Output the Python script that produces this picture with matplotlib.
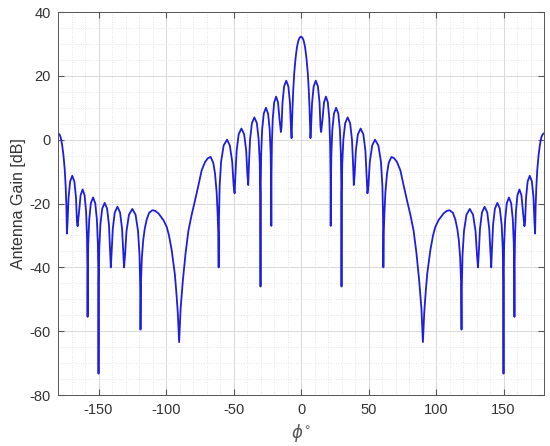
import numpy as np
import matplotlib
matplotlib.use("Agg")
import matplotlib.pyplot as plt
from matplotlib.ticker import MultipleLocator

# pattern for 0..180 deg; it is symmetric about 0
phi_half = [
    0, 1, 2, 3, 4, 5, 5.7, 6.3, 6.7, 7.0,
    7.47, 8.19, 9.37, 10.95, 12.53, 13.72, 14.43, 14.9,
    15.97, 17.03, 18.45, 19.87, 20.94, 21.57, 21.86, 22.0,
    22.16, 22.48, 23.2, 24.4, 26.0, 27.6, 28.8, 29.52, 29.84, 30.0,
    30.18, 30.55, 31.37, 32.73, 34.55, 36.37, 37.74, 38.55, 39.1,
    39.71, 40.62, 42.13, 44.15, 46.17, 47.69, 48.59, 49.2,
    49.9, 50.97, 52.74, 54.8, 57.3, 59.2, 60.29, 60.76, 61.0,
    61.3, 61.8, 62.5, 63.7, 65.0, 67.0, 69.0, 71.1, 73.6, 76.0,
    78.5, 81.0, 83.4, 85.5, 87.5, 89.2, 90.3,
    91.3, 92.5, 93.5, 95.8, 97.8, 99.5, 101.9, 105.6, 108.0, 110.1,
    112.5, 114.3, 115.8, 116.9, 117.9, 118.5, 118.9,
    119.14, 119.63, 120.73, 122.56, 125.0, 127.44, 129.27, 130.37, 131.1,
    131.69, 132.57, 134.04, 136.0, 137.96, 139.43, 140.31, 140.9,
    141.45, 142.27, 143.63, 145.45, 147.27, 148.64, 149.45, 149.82, 150.0,
    150.16, 150.49, 151.22, 152.43, 154.05, 155.67, 156.89, 157.61, 157.94, 158.1,
    158.25, 158.54, 159.21, 160.32, 161.8, 163.28, 164.39, 165.5,
    165.97, 166.69, 167.87, 169.45, 171.03, 172.22, 172.93, 173.4,
    173.8, 174.3, 175, 176, 177, 178, 179, 180,
]
gain_half = [
    32.3, 32.0, 31.0, 29.0, 25.7, 21.0, 16.0, 10.0, 4.5, 0.5,
    4.0, 11.6, 16.7, 18.5, 16.7, 11.6, 4.0, 2.4,
    6.6, 11.7, 13.5, 11.7, 6.6, -1.0, -10.5, -27,
    -14, -4.5, 3.1, 8.2, 10, 8.2, 3.1, -4.5, -14, -46,
    -17, -7.5, 0.1, 5.2, 7.0, 5.2, 0.1, -7.5, -14.2,
    -11, -3.4, 1.7, 3.5, 1.7, -3.4, -11, -16.8,
    -14.5, -6.9, -1.8, 0, -1.8, -6.9, -14.5, -24, -40,
    -29, -23, -16.5, -10.6, -7.2, -5.4, -5.8, -7.0, -9.6, -14.3,
    -19.0, -23.5, -28.5, -35.5, -44, -53, -63.4,
    -54, -47, -42, -34.6, -30, -27.3, -25.2, -23.1, -22.3, -22.1,
    -22.9, -25.0, -28.0, -31.5, -37, -44, -59.5,
    -45.7, -36.2, -28.6, -23.5, -21.7, -23.5, -28.6, -36.2, -40,
    -35.5, -27.9, -22.8, -21.0, -22.8, -27.9, -35.5, -40,
    -34.3, -26.7, -21.6, -19.8, -21.6, -26.7, -34.3, -43.8, -73.3,
    -42.1, -32.6, -25.0, -19.9, -18.1, -19.9, -25.0, -32.6, -42.1, -55.5,
    -39.6, -30.1, -22.5, -17.4, -15.6, -17.4, -22.5, -27.1,
    -25.8, -18.2, -13.1, -11.3, -13.1, -18.2, -25.8, -29.4,
    -21, -15, -9.5, -4.8, -1.5, 0.7, 1.7, 2.0,
]

x_ticks = [-150, -100, -50, 0, 50, 100, 150]
y_ticks = [-80, -60, -40, -20, 0, 20, 40]

phi_half = np.array(phi_half)
gain_half = np.array(gain_half)
phi = np.concatenate([-phi_half[::-1], phi_half[1:]])
gain = np.concatenate([gain_half[::-1], gain_half[1:]])

plt.rcParams["font.family"] = ["Liberation Sans", "DejaVu Sans"]
plt.rcParams["axes.unicode_minus"] = False

fig = plt.figure(figsize=(5.5, 4.46), dpi=100)
ax = fig.add_axes([0.1055, 0.1143, 0.8836, 0.8587])

ax.plot(phi, gain, color="#1e1ee0", lw=1.3, solid_joinstyle="round")

ax.set_xlim(-180, 180)
ax.set_ylim(-80, 40)
ax.set_xticks(x_ticks)
ax.set_yticks(y_ticks)
ax.xaxis.set_minor_locator(MultipleLocator(10))
ax.yaxis.set_minor_locator(MultipleLocator(5))

ax.grid(which="major", color="#d9d9d9", lw=0.7, ls="-")
ax.grid(which="minor", color="#dedede", lw=0.6, ls=(0, (1, 2)))
ax.set_axisbelow(True)

for s in ax.spines.values():
    s.set_color("#555555")
    s.set_linewidth(0.7)
ax.tick_params(which="both", direction="in", top=True, right=True,
               colors="#555555", labelcolor="#333333", labelsize=10.5)
ax.tick_params(which="major", length=4)
ax.tick_params(which="minor", length=0)
ax.tick_params(axis="x", pad=6)
ax.tick_params(axis="y", pad=5)

ax.set_xlabel(r"$\phi^{\circ}$", fontsize=12, color="#555555", labelpad=3)
ax.set_ylabel("Antenna Gain [dB]", fontsize=11.5, color="#333333", labelpad=3)

fig.savefig("out.png", dpi=100)
